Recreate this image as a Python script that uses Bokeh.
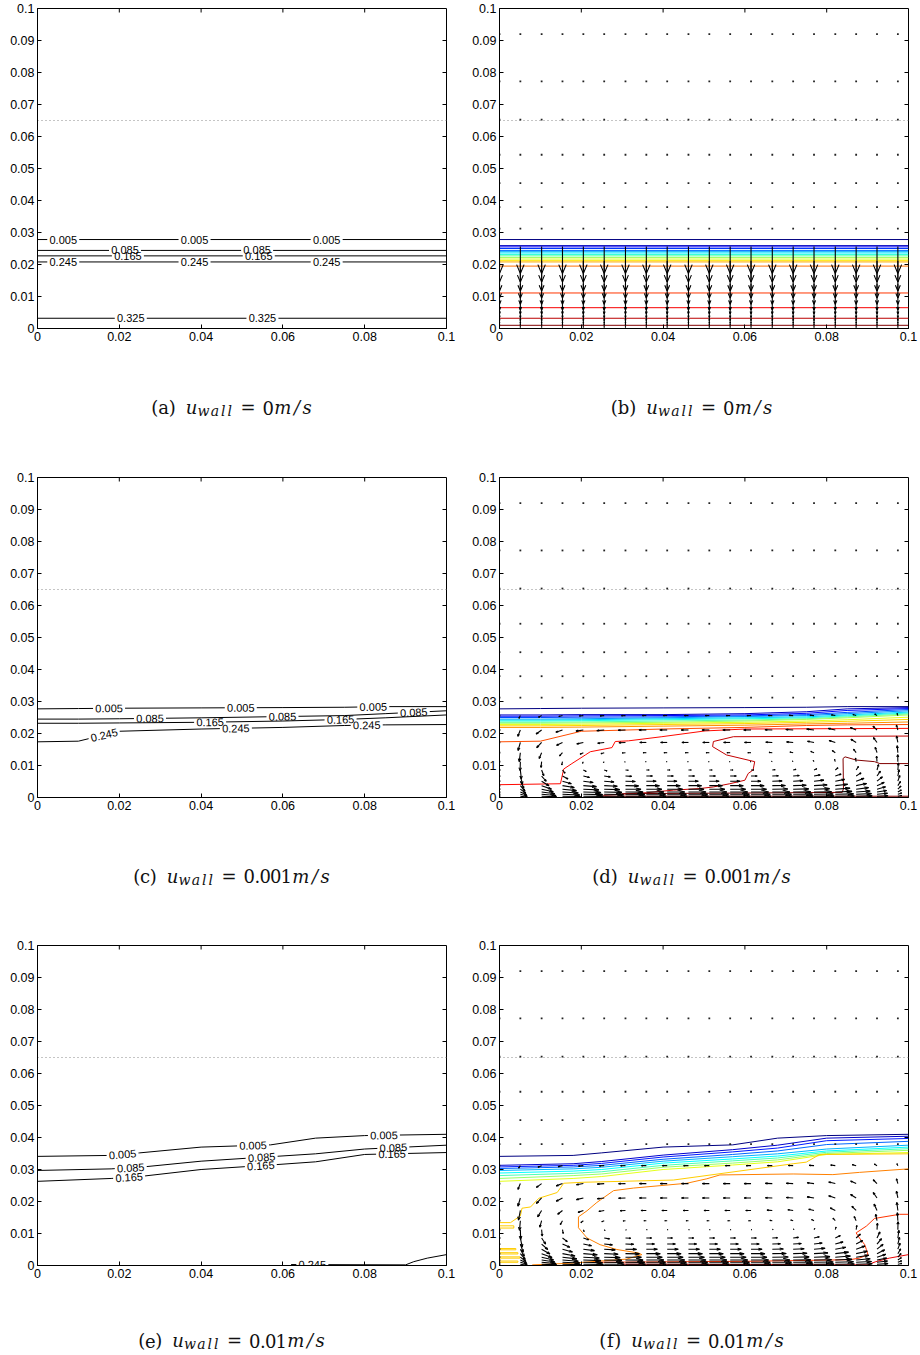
import numpy as np
from bokeh.plotting import figure
from bokeh.models import Range1d, LinearAxis, FixedTicker, CustomJSTickFormatter
from bokeh.layouts import column, row
from bokeh.embed import file_html
from bokeh.resources import INLINE
from bokeh.core.properties import value

# ---------------- axes ----------------
X_TICKS = [0.0, 0.02, 0.04, 0.06, 0.08, 0.1]
X_TICK_LABELS = ["0", "0.02", "0.04", "0.06", "0.08", "0.1"]
Y_TICKS = [0.0, 0.01, 0.02, 0.03, 0.04, 0.05, 0.06, 0.07, 0.08, 0.09, 0.1]
Y_TICK_LABELS = ["0", "0.01", "0.02", "0.03", "0.04", "0.05", "0.06", "0.07", "0.08", "0.09", "0.1"]

FREE_SURFACE_Y = 0.065

# ---------------- contour levels ----------------
LEVELS = [0.005, 0.025, 0.045, 0.065, 0.085, 0.105, 0.125, 0.145, 0.165,
          0.185, 0.205, 0.225, 0.245, 0.265, 0.285, 0.305, 0.325, 0.345]
LABELLED_LEVELS = [0.005, 0.085, 0.165, 0.245, 0.325]

# colour limits of the jet map in each coloured panel
CMAX_B = 0.345
CMAX_D = 0.305
CMAX_F = 0.272

# u_wall = 0 : flat iso-lines (height of each level)
FLAT_Y = [0.0278, 0.0259, 0.0255, 0.0250, 0.0244, 0.0240, 0.0236, 0.0231, 0.0227,
          0.0222, 0.0217, 0.0212, 0.0208, 0.0195, 0.0111, 0.0065, 0.0032, 0.0010]
LABEL_X_A = {0.005: [0.0063, 0.0384, 0.0707], 0.085: [0.0214, 0.0537],
             0.165: [0.0221, 0.0541], 0.245: [0.0063, 0.0384, 0.0707],
             0.325: [0.0228, 0.0550]}

# u_wall = 0.001 : iso-lines sampled at XK_D
XK_D = [0.0, 0.01, 0.02, 0.04, 0.06, 0.075, 0.085, 0.1]
BAND_D = {
    0.005: [0.0277, 0.0278, 0.0279, 0.0280, 0.0281, 0.0282, 0.0284, 0.0284],
    0.025: [0.0258, 0.0258, 0.0259, 0.0259, 0.0262, 0.0268, 0.0277, 0.0281],
    0.045: [0.0254, 0.0254, 0.0255, 0.0256, 0.0258, 0.0263, 0.0272, 0.0278],
    0.065: [0.0250, 0.0250, 0.0251, 0.0252, 0.0255, 0.0259, 0.0266, 0.0275],
    0.085: [0.0245, 0.0245, 0.0246, 0.0249, 0.0253, 0.0256, 0.0262, 0.0271],
    0.105: [0.0242, 0.0242, 0.0243, 0.0246, 0.0249, 0.0252, 0.0258, 0.0267],
    0.125: [0.0239, 0.0239, 0.0240, 0.0243, 0.0246, 0.0249, 0.0255, 0.0264],
    0.145: [0.0235, 0.0235, 0.0236, 0.0239, 0.0242, 0.0246, 0.0252, 0.0261],
    0.165: [0.0232, 0.0232, 0.0233, 0.0235, 0.0239, 0.0244, 0.0249, 0.0258],
    0.185: [0.0228, 0.0228, 0.0229, 0.0232, 0.0235, 0.0239, 0.0243, 0.0251],
    0.205: [0.0224, 0.0224, 0.0225, 0.0228, 0.0231, 0.0235, 0.0238, 0.0244],
    0.225: [0.0219, 0.0219, 0.0220, 0.0223, 0.0226, 0.0230, 0.0232, 0.0236],
    0.245: [0.0174, 0.0176, 0.0207, 0.0214, 0.0219, 0.0225, 0.0227, 0.0228],
}
EXTRA_D = {
    0.265: ([0.0, 0.0149, 0.0157, 0.0177, 0.0210, 0.0222, 0.0275, 0.0283, 0.0315, 0.0397, 0.0502, 0.0600, 0.1],
            [0.0040, 0.0043, 0.0089, 0.0106, 0.0133, 0.0143, 0.0156, 0.0175, 0.0177, 0.0190, 0.0208, 0.0214, 0.0216]),
    0.285: ([0.1, 0.0572, 0.0523, 0.0521, 0.0555, 0.0624, 0.0620, 0.0608, 0.0600, 0.0563, 0.0523, 0.0490, 0.0425, 0.0360, 0.0254],
            [0.0192, 0.0190, 0.0175, 0.0159, 0.0133, 0.0112, 0.0086, 0.0075, 0.0054, 0.0043, 0.0033, 0.0028, 0.0023, 0.0015, 0.0007]),
    0.305: ([0.0300, 0.0600, 0.0838, 0.0841, 0.0840, 0.0845, 0.0872, 0.0917, 0.0930, 0.1],
            [0.0012, 0.0014, 0.0016, 0.0028, 0.0122, 0.0127, 0.0117, 0.0112, 0.0106, 0.0106]),
    0.325: ([0.0250, 0.1], [0.0004, 0.0004]),
}
LABEL_X_C = {0.005: [0.0175, 0.0497, 0.0821], 0.085: [0.0275, 0.0599, 0.0920],
             0.165: [0.0422, 0.0741], 0.245: [0.0163, 0.0485, 0.0805]}

# u_wall = 0.01 : iso-lines sampled at XK_F
XK_F = [0.0, 0.018, 0.025, 0.04, 0.057, 0.068, 0.08, 0.1]
BAND_F = {
    0.005: [0.0341, 0.0344, 0.0352, 0.0370, 0.0377, 0.0398, 0.0406, 0.0410],
    0.025: [0.0313, 0.0318, 0.0325, 0.0345, 0.0362, 0.0376, 0.0398, 0.0404],
    0.045: [0.0308, 0.0313, 0.0319, 0.0339, 0.0355, 0.0367, 0.0390, 0.0397],
    0.065: [0.0303, 0.0308, 0.0313, 0.0332, 0.0347, 0.0358, 0.0378, 0.0388],
    0.085: [0.0297, 0.0302, 0.0307, 0.0326, 0.0340, 0.0349, 0.0364, 0.0376],
    0.105: [0.0289, 0.0295, 0.0300, 0.0320, 0.0333, 0.0342, 0.0358, 0.0370],
    0.125: [0.0281, 0.0288, 0.0293, 0.0313, 0.0327, 0.0336, 0.0354, 0.0365],
    0.145: [0.0272, 0.0281, 0.0286, 0.0307, 0.0320, 0.0330, 0.0350, 0.0360],
    0.165: [0.0263, 0.0272, 0.0278, 0.0300, 0.0314, 0.0324, 0.0347, 0.0353],
}
EXTRA_F = {
    0.185: ([0.0, 0.0027, 0.0051, 0.0055, 0.0076, 0.0096, 0.0141, 0.0157, 0.0202, 0.0425, 0.0718, 0.0750, 0.0783, 0.1],
            [0.0134, 0.0134, 0.0155, 0.0179, 0.0183, 0.0210, 0.0228, 0.0257, 0.0260, 0.0267, 0.0318, 0.0323, 0.0347, 0.0349]),
    0.205: ([0.0080, 0.0173, 0.0311, 0.0348, 0.0340, 0.0287, 0.0246, 0.0214, 0.0193, 0.0193, 0.0214, 0.0238, 0.0279,
             0.0328, 0.0458, 0.0507, 0.0539, 0.0718, 0.0815, 0.0880, 0.1],
            [0.0002, 0.0007, 0.0020, 0.0034, 0.0039, 0.0050, 0.0065, 0.0086, 0.0118, 0.0152, 0.0171, 0.0197, 0.0234,
             0.0242, 0.0257, 0.0271, 0.0283, 0.0286, 0.0284, 0.0291, 0.0302]),
    0.225: ([0.1, 0.0978, 0.0917, 0.0897, 0.0872, 0.0880, 0.0893, 0.0897, 0.0901, 0.0880, 0.0856, 0.0600, 0.0230],
            [0.0160, 0.0160, 0.0147, 0.0123, 0.0102, 0.0086, 0.0065, 0.0050, 0.0034, 0.0023, 0.0018, 0.0013, 0.0010]),
    0.245: ([0.0300, 0.0620, 0.0900, 0.0920, 0.0953, 0.1],
            [0.0004, 0.0003, 0.0002, 0.0012, 0.0023, 0.0034]),
}
# small closed iso-lines hugging the left wall (level 0.185)
LOOPS_F = [
    ([0.0, 0.0035, 0.0035, 0.0], [0.0124, 0.0124, 0.0117, 0.0117]),
    ([0.0, 0.0040, 0.0040, 0.0], [0.0053, 0.0053, 0.0049, 0.0049]),
    ([0.0, 0.0045, 0.0045, 0.0], [0.0040, 0.0040, 0.0036, 0.0036]),
    ([0.0, 0.0050, 0.0050, 0.0], [0.0027, 0.0027, 0.0023, 0.0023]),
    ([0.0, 0.0045, 0.0045, 0.0], [0.0014, 0.0014, 0.0010, 0.0010]),
]
LABEL_X_E = {0.005: [0.0208, 0.0527, 0.0847], 0.085: [0.0228, 0.0548, 0.0870],
             0.165: [0.0224, 0.0546, 0.0867], 0.245: [0.0672]}

# ---------------- velocity mesh ----------------
MESH_X = [0.0, 0.0051, 0.0103, 0.0154, 0.0205, 0.0256, 0.0308, 0.0359, 0.0410, 0.0462,
          0.0513, 0.0564, 0.0615, 0.0667, 0.0718, 0.0769, 0.0821, 0.0872, 0.0923, 0.0974]
MESH_Y = [0.0920, 0.0772, 0.0653, 0.0543, 0.0454, 0.0379, 0.0312, 0.0256, 0.0211, 0.0172,
          0.0140, 0.0112, 0.0086, 0.0067, 0.0051, 0.0037, 0.0026, 0.0017, 0.0010, 0.0004]

# u_wall = 0 : downward flow, arrow extent per mesh row
V_ROW_B = [0, 0, 0, 0, 0, 0, 0, -0.0084, -0.0066, -0.0055, -0.0045, -0.0036, -0.0028,
           -0.0021, -0.0016, -0.0012, -0.0009, -0.0006, -0.0004, -0.0002]

# driven cavity cells: horizontal extent per row x column weight,
# vertical extent per column x row weight
U_COL = [0, 0.35, 0.75, 0.9, 1, 1, 1, 1, 1, 1, 1, 1, 1, 1, 1, 1, 0.95, 0.8, 0.55, 0.2]
U_ROW_D = [0, 0, 0, 0, 0, 0, 0, -0.0010, -0.0018, -0.0016, -0.0008, -0.0002, 0.0007,
           0.0015, 0.0024, 0.0032, 0.0038, 0.0043, 0.0047, 0.0049]
V_COL_D = [0, -0.0028, -0.0018, -0.0010, -0.0005, -0.0003, -0.0001, 0, 0, 0, 0, 0, 0,
           0.0001, 0.0002, 0.0004, 0.0007, 0.0011, 0.0017, 0.0022]
V_ROW_D = [0, 0, 0, 0, 0, 0, 0, 0.3, 0.7, 0.9, 1.0, 1.0, 1.0, 0.9, 0.8, 0.6, 0.45, 0.3, 0.2, 0.1]

U_ROW_F = [0, 0, 0, 0, 0, 0, -0.0012, -0.0017, -0.0017, -0.0013, -0.0006, 0.0002, 0.0013,
           0.0020, 0.0027, 0.0034, 0.0039, 0.0043, 0.0047, 0.0049]
V_COL_F = [0, -0.0030, -0.0020, -0.0012, -0.0006, -0.0003, -0.0001, 0, 0, 0, 0, 0, 0,
           0.0001, 0.0002, 0.0004, 0.0008, 0.0013, 0.0020, 0.0025]
V_ROW_F = [0, 0, 0, 0, 0, 0, 0.25, 0.6, 0.85, 1.0, 1.0, 1.0, 0.95, 0.85, 0.75, 0.6, 0.45, 0.3, 0.2, 0.1]

# ---------------- captions ----------------
CAPTIONS = [("a", "0"), ("b", "0"), ("c", "0.001"), ("d", "0.001"), ("e", "0.01"), ("f", "0.01")]

# ---------------- geometry ----------------
FRAME_W, FRAME_H = 409, 320
PX_X = FRAME_W / 0.1
PX_Y = FRAME_H / 0.1
TICK_LEN = 4.0
LABEL_FONT = "Liberation Sans"


def jet(t):
    t = min(max(t, 0.0), 1.0)
    r = min(max(min(4 * t - 1.5, -4 * t + 4.5), 0.0), 1.0)
    g = min(max(min(4 * t - 0.5, -4 * t + 3.5), 0.0), 1.0)
    b = min(max(min(4 * t + 0.5, -4 * t + 2.5), 0.0), 1.0)
    return "#%02x%02x%02x" % (int(round(r * 255)), int(round(g * 255)), int(round(b * 255)))


def level_color(level, cmax):
    return jet((level - LEVELS[0]) / (cmax - LEVELS[0]))


def tick_formatter(ticks, labels):
    return CustomJSTickFormatter(
        args=dict(tick_values=ticks, tick_labels=labels),
        code="const i = tick_values.findIndex(t => Math.abs(t - tick) < 1e-9);"
             "return i < 0 ? '' : tick_labels[i];")


def make_panel(left_pad):
    p = figure(frame_width=FRAME_W, frame_height=FRAME_H,
               x_range=Range1d(0, 0.1), y_range=Range1d(0, 0.1),
               x_axis_type=None, y_axis_type=None,
               min_border_left=left_pad, min_border_right=460 - FRAME_W - left_pad,
               min_border_top=8, min_border_bottom=16,
               toolbar_location=None, output_backend="svg")
    p.grid.visible = False
    p.outline_line_color = "black"
    p.outline_line_width = 1
    p.background_fill_color = "white"
    p.border_fill_color = "white"
    for loc, ticks, labels in [("below", X_TICKS, X_TICK_LABELS),
                               ("left", Y_TICKS, Y_TICK_LABELS)]:
        ax = LinearAxis(ticker=FixedTicker(ticks=ticks), formatter=tick_formatter(ticks, labels),
                        major_tick_in=int(TICK_LEN), major_tick_out=0,
                        minor_tick_in=0, minor_tick_out=0,
                        axis_line_color="black", major_tick_line_color="black",
                        major_label_text_font=LABEL_FONT,
                        major_label_text_font_size="12.5px",
                        major_label_standoff=3,
                        major_label_text_color="black")
        p.add_layout(ax, loc)
    # inward ticks on the top and right edges of the box
    tx = [t for t in X_TICKS if 0 < t < 0.1]
    ty = [t for t in Y_TICKS if 0 < t < 0.1]
    p.segment(x0=tx, y0=[0.1] * len(tx), x1=tx, y1=[0.1 - TICK_LEN / PX_Y] * len(tx),
              line_color="black", line_width=1)
    p.segment(x0=[0.1] * len(ty), y0=ty, x1=[0.1 - TICK_LEN / PX_X] * len(ty), y1=ty,
              line_color="black", line_width=1)
    p.line([0, 0.1], [FREE_SURFACE_Y, FREE_SURFACE_Y], line_color="#8a8a8a",
           line_dash="1 3", line_width=1)
    return p


def slope_angle(xs, ys, xc):
    i = int(np.clip(np.searchsorted(xs, xc), 1, len(xs) - 1))
    s = (ys[i] - ys[i - 1]) / (xs[i] - xs[i - 1])
    return float(np.arctan(s * PX_Y / PX_X))


def split_for_labels(xs, ys, centers):
    """Break a polyline (x increasing) where inline labels sit."""
    if not centers:
        return [list(xs)], [list(ys)]
    ivs = []
    for c in centers:
        half = 16.0 * np.cos(slope_angle(xs, ys, c)) / PX_X
        ivs.append((c - half, c + half))
    pts = sorted(set(list(xs) + [e for iv in ivs for e in iv if xs[0] < e < xs[-1]]))
    pys = np.interp(pts, xs, ys)
    segx, segy, cx, cy = [], [], [], []
    for i in range(len(pts) - 1):
        mid = 0.5 * (pts[i] + pts[i + 1])
        if any(a < mid < b for a, b in ivs):
            if len(cx) > 1:
                segx.append(cx)
                segy.append(cy)
            cx, cy = [], []
        else:
            if not cx:
                cx, cy = [pts[i]], [float(pys[i])]
            cx.append(pts[i + 1])
            cy.append(float(pys[i + 1]))
    if len(cx) > 1:
        segx.append(cx)
        segy.append(cy)
    return segx, segy


def labelled_lines(p, lines, label_x):
    """lines: list of (level, xs, ys); black iso-lines with inline labels."""
    mx, my, tx, ty, tt, ta = [], [], [], [], [], []
    for lv, xs, ys in lines:
        centers = label_x.get(lv, [])
        sx, sy = split_for_labels(xs, ys, centers)
        mx += sx
        my += sy
        for c in centers:
            tx.append(c)
            ty.append(float(np.interp(c, xs, ys)))
            tt.append("%g" % lv)
            ta.append(slope_angle(xs, ys, c))
    p.multi_line(mx, my, line_color="black", line_width=1)
    p.text(tx, ty, text=tt, angle=ta, text_font=value(LABEL_FONT), text_font_size="11px",
           text_align="center", text_baseline="middle", text_color="black")


def coloured_lines(p, lines, cmax):
    xs = [l[1] for l in lines]
    ys = [l[2] for l in lines]
    cols = [level_color(l[0], cmax) for l in lines]
    p.multi_line(xs, ys, line_color=cols, line_width=1)


def quiver(p, dx_of, dy_of):
    sx, sy, dotx, doty = [], [], [], []
    a, b = 0.33, 0.33
    for i, y in enumerate(MESH_Y):
        for j, x in enumerate(MESH_X):
            dx, dy = dx_of(i, j), dy_of(i, j)
            if dx == 0 and dy == 0:
                dotx.append(x)
                doty.append(y)
                continue
            tx, ty = x + dx, y + dy
            sx.append([x, tx])
            sy.append([y, ty])
            sx.append([tx - a * (dx + b * dy), tx, tx - a * (dx - b * dy)])
            sy.append([ty - a * (dy - b * dx), ty, ty - a * (dy + b * dx)])
    p.multi_line(sx, sy, line_color="black", line_width=1.1)
    p.scatter(dotx, doty, marker="square", size=1.8, fill_color="#222222", line_color=None)


# ---------------- captions ----------------
ROMAN_W = {"(": 7.5, ")": 7.5, "a": 10.0, "b": 11.0, "c": 9.0, "d": 11.0, "e": 9.5, "f": 7.5,
           "=": 16.0, "0": 10.5, "1": 10.5, ".": 5.5}
ITALIC_W = {"u": 11.0, "m": 18.5, "/": 10.0, "s": 10.0}
SUB_W = {"w": 13.0, "a": 10.0, "l": 6.5}


def make_caption(height, letter, speed, base):
    c = figure(width=460, height=height, x_range=Range1d(0, 460), y_range=Range1d(0, height),
               x_axis_type=None, y_axis_type=None, min_border=0,
               toolbar_location=None, output_backend="svg")
    c.grid.visible = False
    c.outline_line_color = None
    c.background_fill_color = "white"
    c.border_fill_color = "white"
    items = [("(", "r"), (letter, "r"), (")", "r"), (10.0, "gap"), ("u", "i")]
    items += [(ch, "s") for ch in "wall"]
    items += [(7.0, "gap"), ("=", "r"), (7.0, "gap")]
    items += [(ch, "r") for ch in speed]
    items += [(ch, "i") for ch in "m/s"]

    def width(it):
        ch, kind = it
        if kind == "gap":
            return ch
        return {"r": ROMAN_W, "i": ITALIC_W, "s": SUB_W}[kind][ch]

    total = sum(width(it) for it in items)
    x = 231.0 - total / 2.0
    groups = {"r": ([], [], []), "i": ([], [], []), "s": ([], [], [])}
    for it in items:
        w = width(it)
        if it[1] != "gap":
            gx, gy, gt = groups[it[1]]
            gx.append(x + w / 2.0)
            gy.append(base - 3.5 if it[1] == "s" else base)
            gt.append(it[0])
        x += w
    styles = {"r": ("18px", "normal"), "i": ("18px", "italic"), "s": ("14px", "italic")}
    for kind, (gx, gy, gt) in groups.items():
        size, style = styles[kind]
        c.text(gx, gy, text=gt, text_font=value("DejaVu Serif"), text_font_size=size,
               text_font_style=style, text_align="center", text_baseline="alphabetic",
               text_color="#111111")
    return c


# ---------------- panels ----------------
flat = dict(zip(LEVELS, FLAT_Y))

# (a)
pa = make_panel(37)
labelled_lines(pa, [(lv, [0.0, 0.1], [flat[lv], flat[lv]]) for lv in LABELLED_LEVELS], LABEL_X_A)

# (b)
pb = make_panel(39)
coloured_lines(pb, [(lv, [0.0, 0.1], [flat[lv], flat[lv]]) for lv in LEVELS], CMAX_B)
quiver(pb, lambda i, j: 0.0, lambda i, j: V_ROW_B[i])

# (c)
pc = make_panel(37)
labelled_lines(pc, [(lv, XK_D, BAND_D[lv]) for lv in [0.005, 0.085, 0.165, 0.245]], LABEL_X_C)

# (d)
pd_ = make_panel(39)
lines_d = [(lv, XK_D, ys) for lv, ys in BAND_D.items()]
lines_d += [(lv, xy[0], xy[1]) for lv, xy in EXTRA_D.items()]
coloured_lines(pd_, lines_d, CMAX_D)
quiver(pd_, lambda i, j: U_ROW_D[i] * U_COL[j], lambda i, j: V_COL_D[j] * V_ROW_D[i])

# (e)
pe = make_panel(37)
e_lines = [(lv, XK_F, BAND_F[lv]) for lv in [0.005, 0.085, 0.165]]
e_lines.append((0.245, EXTRA_F[0.245][0][1:], EXTRA_F[0.245][1][1:]))
labelled_lines(pe, e_lines, LABEL_X_E)

# (f)
pf = make_panel(39)
lines_f = [(lv, XK_F, ys) for lv, ys in BAND_F.items()]
lines_f += [(lv, xy[0], xy[1]) for lv, xy in EXTRA_F.items()]
lines_f += [(0.185, lx, ly) for lx, ly in LOOPS_F]
coloured_lines(pf, lines_f, CMAX_F)
quiver(pf, lambda i, j: U_ROW_F[i] * U_COL[j], lambda i, j: V_COL_F[j] * V_ROW_F[i])

caps = [make_caption(h, l, s, base) for (l, s), (h, base) in
        zip(CAPTIONS, [(125, 62), (125, 62), (124, 61.5), (124, 61.5), (74, 15), (74, 15)])]

layout = column(row(pa, pb), row(caps[0], caps[1]),
                row(pc, pd_), row(caps[2], caps[3]),
                row(pe, pf), row(caps[4], caps[5]))

open("out.html", "w").write(file_html(layout, INLINE))
